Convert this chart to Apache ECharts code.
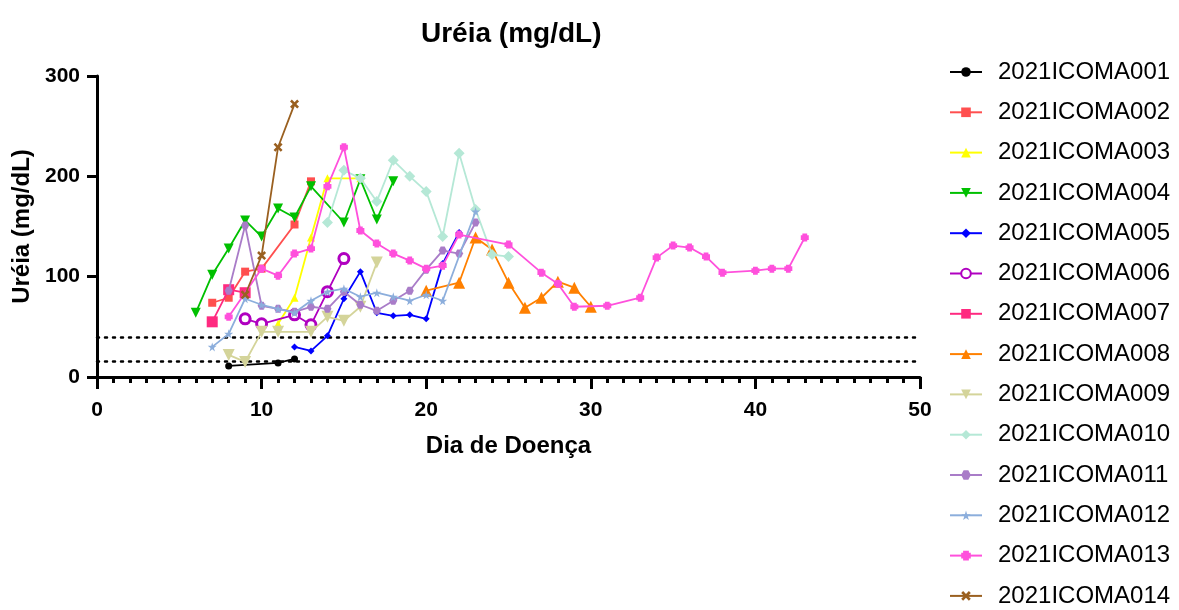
<!DOCTYPE html>
<html>
<head>
<meta charset="utf-8">
<script src="https://cdn.jsdelivr.net/npm/echarts@6/dist/echarts.min.js"></script>
<style>
  html, body { margin: 0; padding: 0; background: #fff; }
  #chart { width: 1179px; height: 610px; }
</style>
</head>
<body>
<div id="chart"></div>
<script>
// [dia, ureia] pairs per patient
let icoma001 = [[8, 11], [11, 14], [12, 18]];
let icoma002 = [[7, 74], [8, 79], [9, 105], [10, 108], [12, 152], [13, 195]];
let icoma003 = [[11, 53], [12, 79], [13, 139], [14, 198], [16, 198]];
let icoma004 = [[6, 64], [7, 102], [8, 128], [9, 156], [10, 140], [11, 168], [12, 159], [13, 190], [15, 154], [16, 197], [17, 157], [18, 195]];
let icoma005 = [[12, 30], [13, 26], [14, 41], [15, 78], [16, 105], [17, 64], [18, 61], [19, 62], [20, 58], [21, 113], [22, 144]];
let icoma006 = [[9, 58], [10, 53], [12, 62], [13, 52], [14, 85], [15, 118]];
let icoma007 = [[7, 55], [8, 87], [9, 84]];
let icoma008 = [[20, 86], [22, 94], [23, 139], [24, 127], [25, 94], [26, 69], [27, 79], [28, 95], [29, 89], [30, 70]];
let icoma009 = [[8, 22], [9, 15], [10, 45], [11, 45], [13, 45], [14, 60], [15, 56], [16, 70], [17, 114]];
let icoma010 = [[14, 154], [15, 206], [16, 198], [17, 175], [18, 216], [19, 200], [20, 185], [21, 140], [22, 223], [23, 167], [24, 122], [25, 120]];
let icoma011 = [[8, 86], [9, 151], [10, 71], [11, 68], [12, 65], [13, 70], [14, 68], [15, 85], [16, 72], [17, 66], [18, 76], [19, 86], [20, 107], [21, 126], [22, 123], [23, 154]];
let icoma012 = [[7, 30], [8, 43], [9, 78], [10, 72], [11, 68], [12, 64], [13, 76], [14, 85], [15, 88], [16, 80], [17, 84], [18, 80], [19, 76], [20, 82], [21, 76], [23, 165]];
let icoma013 = [[8, 60], [10, 108], [11, 101], [12, 123], [13, 128], [14, 190], [15, 229], [16, 146], [17, 133], [18, 123], [19, 116], [20, 108], [21, 111], [22, 142], [25, 132], [27, 104], [28, 93], [29, 70], [31, 71], [33, 79], [34, 119], [35, 131], [36, 129], [37, 120], [38, 104], [40, 106], [41, 108], [42, 108], [43, 139]];
let icoma014 = [[9, 82], [10, 121], [11, 229], [12, 272]];

let names = ['2021ICOMA001', '2021ICOMA002', '2021ICOMA003', '2021ICOMA004', '2021ICOMA005',
             '2021ICOMA006', '2021ICOMA007', '2021ICOMA008', '2021ICOMA009', '2021ICOMA010',
             '2021ICOMA011', '2021ICOMA012', '2021ICOMA013', '2021ICOMA014'];
let allData = [icoma001, icoma002, icoma003, icoma004, icoma005, icoma006, icoma007,
               icoma008, icoma009, icoma010, icoma011, icoma012, icoma013, icoma014];
let refLines = [40, 16];   // dotted reference limits

let colors = ['#000000', '#FF4F4F', '#FFFF00', '#00C000', '#0000FF', '#B000C0', '#FF2A80',
              '#FF8000', '#D4D49A', '#B5E8D6', '#A97CC8', '#8CAEDC', '#FF50DC', '#9A6020'];

const STAR = 'path://M50,0 L61,35 L98,35 L68,57 L79,91 L50,70 L21,91 L32,57 L2,35 L39,35 Z';
const CROSS = 'path://M20,0 L50,30 L80,0 L100,20 L70,50 L100,80 L80,100 L50,70 L20,100 L0,80 L30,50 L0,20 Z';
const NOTCH = 'path://M20,0 L80,0 L80,20 L100,20 L100,80 L80,80 L80,100 L20,100 L20,80 L0,80 L0,20 L20,20 Z';
const HEX = 'path://M25,0 L75,0 L100,50 L75,100 L25,100 L0,50 Z';

let symbols = ['circle', 'rect', 'triangle', 'triangle', 'diamond', 'circle', 'rect',
               'triangle', 'triangle', 'diamond', HEX, STAR, NOTCH, CROSS];
let rotates = [0, 0, 0, 180, 0, 0, 0, 0, 180, 0, 0, 0, 0, 0];
let sizes = [7, 8, 8, 10, 7, 10, 11, 12, 12, 11, 8, 9, 8, 9];

const FONT = 'Arial, "Liberation Sans", sans-serif';

let chart = echarts.init(document.getElementById('chart'));

let series = names.map(function (name, i) {
    let s = {
        name: name,
        type: 'line',
        data: allData[i],
        symbol: symbols[i],
        symbolSize: sizes[i],
        symbolRotate: rotates[i],
        lineStyle: { color: colors[i], width: 1.8 },
        itemStyle: { color: colors[i], opacity: 1 },
        z: 3 + i
    };
    if (i == 5) {
        // open ring marker
        s.itemStyle = { color: '#ffffff', borderColor: colors[i], borderWidth: 3 };
    }
    return s;
});

// dotted reference limits
series.push({
    name: 'ref',
    type: 'line',
    data: [],
    markLine: {
        silent: true,
        symbol: 'none',
        label: { show: false },
        lineStyle: { color: '#000', type: [2, 6], width: 2.5, cap: 'round' },
        data: refLines.map(v => ({ yAxis: v }))
    }
});

let option = {
    animation: false,
    backgroundColor: '#fff',
    title: {
        text: 'Uréia (mg/dL)',
        left: 416,
        top: 15,
        textStyle: { fontFamily: FONT, fontSize: 28, fontWeight: 'bold', color: '#000' }
    },
    legend: {
        data: names,
        orient: 'vertical',
        left: 949,
        top: 60,
        height: 560,
        padding: 0,
        itemWidth: 32,
        itemHeight: 12,
        itemGap: 16.3,
        textStyle: { fontFamily: FONT, fontSize: 24, lineHeight: 24, color: '#000', padding: [0, 0, 0, 11] }
    },
    grid: { left: 97, right: 259, top: 76, bottom: 233 },
    xAxis: {
        type: 'value',
        min: 0,
        max: 50,
        interval: 10,
        name: 'Dia de Doença',
        nameLocation: 'middle',
        nameGap: 57,
        nameTextStyle: { fontFamily: FONT, fontSize: 24, fontWeight: 'bold', color: '#000' },
        axisLine: { lineStyle: { color: '#000', width: 3 } },
        axisTick: { show: true, length: 12, lineStyle: { color: '#000', width: 3 } },
        minorTick: { show: true, splitNumber: 10, length: 6, lineStyle: { color: '#000', width: 3 } },
        axisLabel: { fontFamily: FONT, fontSize: 21, fontWeight: 'bold', color: '#000', margin: 23 },
        splitLine: { show: false }
    },
    yAxis: {
        type: 'value',
        min: 0,
        max: 300,
        interval: 100,
        name: 'Uréia (mg/dL)',
        nameLocation: 'middle',
        nameGap: 60,
        nameTextStyle: { fontFamily: FONT, fontSize: 24, fontWeight: 'bold', color: '#000' },
        axisLine: { show: true, lineStyle: { color: '#000', width: 3 } },
        axisTick: { show: true, length: 10, lineStyle: { color: '#000', width: 3 } },
        axisLabel: { fontFamily: FONT, fontSize: 21, fontWeight: 'bold', color: '#000', margin: 17 },
        splitLine: { show: false }
    },
    series: series
};

chart.setOption(option);
</script>
</body>
</html>
